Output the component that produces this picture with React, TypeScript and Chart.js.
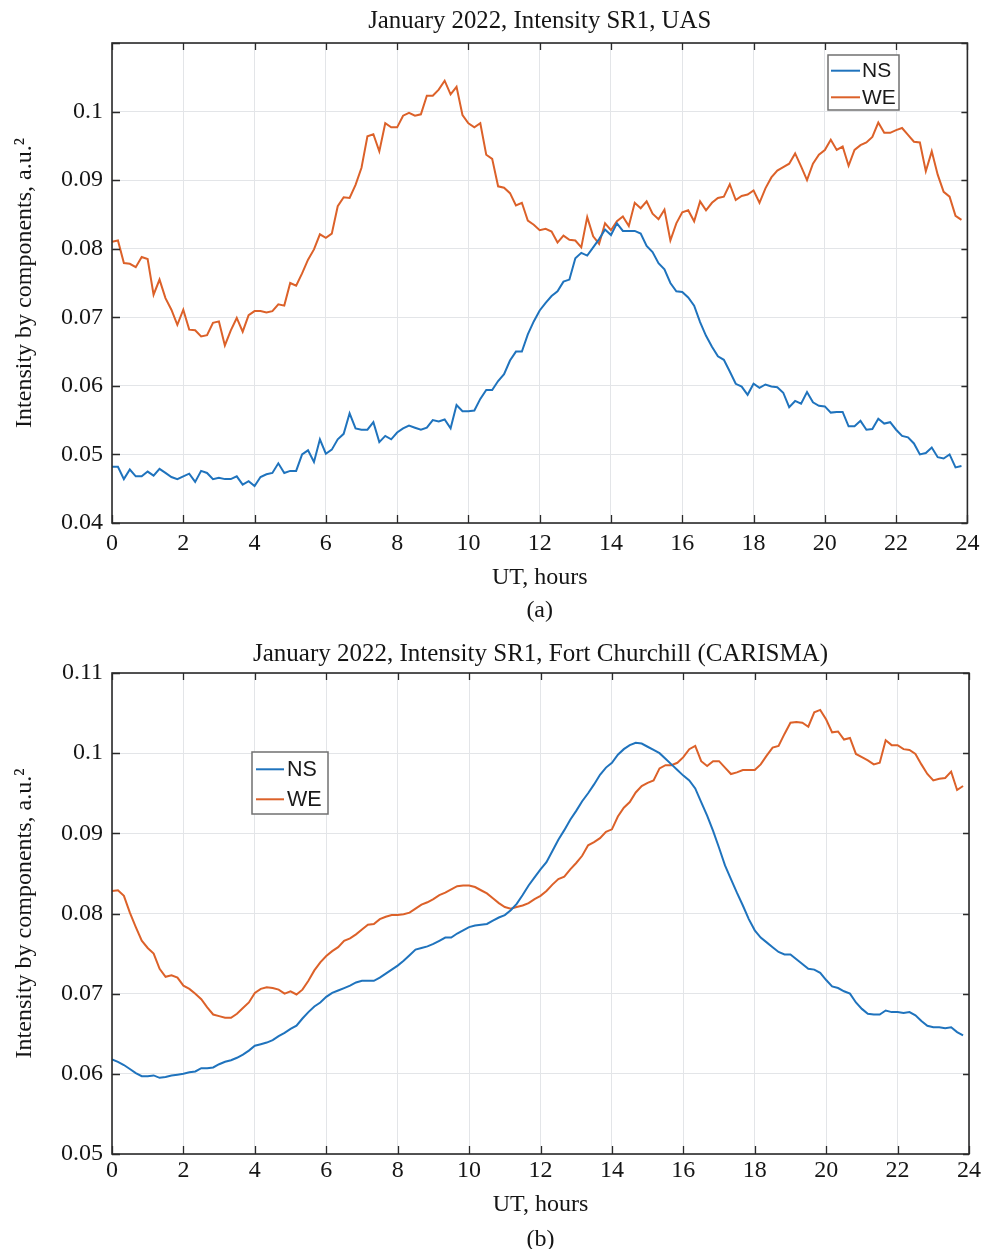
import { useEffect, useRef } from 'react';
import { Chart, registerables } from 'chart.js';

Chart.register(...registerables);

// Sampling interval of the records: 10 minutes
const HOURS_PER_SAMPLE = 1 / 6;
const SERIES_LABELS = ['NS', 'WE'];
const SERIES_COLORS = ['#1f73bd', '#dc6129'];

// (a) UAS
const nsA = [
  0.0482, 0.0482, 0.0464, 0.0478, 0.0468, 0.0468, 0.0475, 0.0469, 0.0479, 0.0473,
  0.0467, 0.0464, 0.0468, 0.0472, 0.0460, 0.0476, 0.0473, 0.0464, 0.0466, 0.0464,
  0.0464, 0.0468, 0.0456, 0.0461, 0.0454, 0.0467, 0.0471, 0.0473, 0.0487, 0.0473,
  0.0476, 0.0476, 0.0500, 0.0506, 0.0489, 0.0522, 0.0501, 0.0507, 0.0522, 0.0530,
  0.0560, 0.0538, 0.0536, 0.0536, 0.0547, 0.0518, 0.0527, 0.0522, 0.0532, 0.0538,
  0.0542, 0.0539, 0.0536, 0.0539, 0.0550, 0.0548, 0.0551, 0.0538, 0.0572, 0.0563,
  0.0563, 0.0564, 0.0581, 0.0594, 0.0594, 0.0607, 0.0617, 0.0637, 0.0650, 0.0650,
  0.0675, 0.0694, 0.0710, 0.0721, 0.0731, 0.0738, 0.0752, 0.0755, 0.0786, 0.0794,
  0.0790, 0.0802, 0.0814, 0.0828, 0.0820, 0.0837, 0.0826, 0.0826, 0.0826, 0.0822,
  0.0804, 0.0795, 0.0779, 0.0770, 0.0750, 0.0738, 0.0737, 0.0729, 0.0717, 0.0693,
  0.0673, 0.0657, 0.0643, 0.0638, 0.0621, 0.0603, 0.0599, 0.0587, 0.0603, 0.0597,
  0.0602, 0.0599, 0.0598, 0.0590, 0.0569, 0.0578, 0.0574, 0.0591, 0.0576, 0.0571,
  0.0570, 0.0561, 0.0562, 0.0562, 0.0541, 0.0541, 0.0549, 0.0536, 0.0537, 0.0552,
  0.0545, 0.0547, 0.0536, 0.0527, 0.0525, 0.0516, 0.0500, 0.0502, 0.0510, 0.0496,
  0.0494, 0.0500, 0.0481, 0.0483,
];
const weA = [
  0.0810, 0.0812, 0.0779, 0.0778, 0.0773, 0.0788, 0.0785, 0.0733, 0.0755, 0.0728,
  0.0711, 0.0689, 0.0711, 0.0682, 0.0681, 0.0672, 0.0674, 0.0692, 0.0694, 0.0659,
  0.0681, 0.0699, 0.0679, 0.0703, 0.0709, 0.0709, 0.0707, 0.0709, 0.0719, 0.0717,
  0.0750, 0.0746, 0.0764, 0.0784, 0.0799, 0.0821, 0.0816, 0.0822, 0.0862, 0.0875,
  0.0874, 0.0893, 0.0918, 0.0964, 0.0967, 0.0942, 0.0983, 0.0977, 0.0977, 0.0994,
  0.0998, 0.0994, 0.0996, 0.1023, 0.1023, 0.1032, 0.1045, 0.1025, 0.1036, 0.0995,
  0.0983, 0.0977, 0.0983, 0.0937, 0.0931, 0.0891, 0.0889, 0.0881, 0.0863, 0.0867,
  0.0841, 0.0835, 0.0827, 0.0829, 0.0825, 0.0809, 0.0819, 0.0813, 0.0812, 0.0802,
  0.0846, 0.0818, 0.0807, 0.0837, 0.0827, 0.0840, 0.0847, 0.0833, 0.0867, 0.0859,
  0.0869, 0.0851, 0.0843, 0.0857, 0.0812, 0.0837, 0.0853, 0.0856, 0.0840, 0.0869,
  0.0856, 0.0867, 0.0874, 0.0876, 0.0894, 0.0871, 0.0877, 0.0879, 0.0885, 0.0867,
  0.0888, 0.0904, 0.0914, 0.0919, 0.0924, 0.0939, 0.0920, 0.0900, 0.0924, 0.0937,
  0.0944, 0.0959, 0.0944, 0.0949, 0.0921, 0.0944, 0.0951, 0.0955, 0.0963, 0.0984,
  0.0969, 0.0969, 0.0973, 0.0976, 0.0966, 0.0956, 0.0955, 0.0913, 0.0942, 0.0908,
  0.0883, 0.0876, 0.0848, 0.0842,
];

// (b) Fort Churchill (CARISMA)
const nsB = [
  0.0618, 0.0615, 0.0611, 0.0606, 0.0601, 0.0597, 0.0597, 0.0598, 0.0595, 0.0596,
  0.0598, 0.0599, 0.0600, 0.0602, 0.0603, 0.0607, 0.0607, 0.0608, 0.0612, 0.0615,
  0.0617, 0.0620, 0.0624, 0.0629, 0.0635, 0.0637, 0.0639, 0.0642, 0.0647, 0.0651,
  0.0656, 0.0660, 0.0669, 0.0677, 0.0684, 0.0689, 0.0696, 0.0701, 0.0704, 0.0707,
  0.0710, 0.0714, 0.0716, 0.0716, 0.0716, 0.0720, 0.0725, 0.0730, 0.0735, 0.0741,
  0.0748, 0.0755, 0.0757, 0.0759, 0.0762, 0.0766, 0.0770, 0.0770, 0.0775, 0.0779,
  0.0783, 0.0785, 0.0786, 0.0787, 0.0791, 0.0795, 0.0798, 0.0804, 0.0812, 0.0823,
  0.0835, 0.0845, 0.0855, 0.0864, 0.0878, 0.0892, 0.0904, 0.0917, 0.0928, 0.0940,
  0.0950, 0.0961, 0.0973, 0.0982, 0.0988, 0.0998, 0.1005, 0.1010, 0.1013, 0.1012,
  0.1008, 0.1004, 0.1000, 0.0993, 0.0986, 0.0979, 0.0972, 0.0966, 0.0956, 0.0939,
  0.0922, 0.0903, 0.0882, 0.0860, 0.0843, 0.0826, 0.0810, 0.0793, 0.0779, 0.0770,
  0.0764, 0.0758, 0.0752, 0.0749, 0.0749, 0.0743, 0.0737, 0.0731, 0.0730, 0.0726,
  0.0717, 0.0709, 0.0707, 0.0703, 0.0700, 0.0689, 0.0681, 0.0675, 0.0674, 0.0674,
  0.0679, 0.0677, 0.0677, 0.0676, 0.0677, 0.0673, 0.0666, 0.0660, 0.0658, 0.0658,
  0.0657, 0.0658, 0.0652, 0.0648,
];
const weB = [
  0.0828, 0.0829, 0.0822, 0.0801, 0.0783, 0.0766, 0.0757, 0.0750, 0.0731, 0.0721,
  0.0723, 0.0720, 0.0710, 0.0706, 0.0700, 0.0693, 0.0683, 0.0674, 0.0672, 0.0670,
  0.0670, 0.0675, 0.0682, 0.0689, 0.0701, 0.0706, 0.0708, 0.0707, 0.0705, 0.0700,
  0.0703, 0.0699, 0.0705, 0.0716, 0.0729, 0.0739, 0.0747, 0.0753, 0.0758, 0.0766,
  0.0769, 0.0774, 0.0780, 0.0786, 0.0787, 0.0793, 0.0796, 0.0798, 0.0798, 0.0799,
  0.0801, 0.0806, 0.0811, 0.0814, 0.0818, 0.0823, 0.0826, 0.0830, 0.0834, 0.0835,
  0.0835, 0.0833, 0.0829, 0.0825, 0.0819, 0.0813, 0.0808, 0.0806, 0.0808, 0.0810,
  0.0813, 0.0818, 0.0822, 0.0828, 0.0836, 0.0843, 0.0846, 0.0855, 0.0863, 0.0872,
  0.0885, 0.0889, 0.0894, 0.0902, 0.0905, 0.0921, 0.0932, 0.0939, 0.0951, 0.0959,
  0.0963, 0.0966, 0.0981, 0.0985, 0.0985, 0.0988, 0.0995, 0.1005, 0.1009, 0.0990,
  0.0984, 0.0990, 0.0990, 0.0982, 0.0974, 0.0976, 0.0979, 0.0979, 0.0979, 0.0986,
  0.0997, 0.1007, 0.1009, 0.1024, 0.1038, 0.1039, 0.1038, 0.1033, 0.1051, 0.1054,
  0.1042, 0.1026, 0.1027, 0.1017, 0.1019, 0.0999, 0.0995, 0.0991, 0.0986, 0.0988,
  0.1016, 0.1010, 0.1010, 0.1005, 0.1004, 0.0999, 0.0986, 0.0974, 0.0966, 0.0968,
  0.0969, 0.0977, 0.0954, 0.0959,
];

const X_MIN = 0;
const X_MAX = 24;
const X_STEP = 2;
const Y_STEP = 0.01;
const Y_TITLE = 'Intensity by components, a.u.\u00B2';
const X_TITLE = 'UT, hours';

const SERIF = "'Liberation Serif', 'Times New Roman', serif";
const SANS = "'Liberation Sans', Arial, sans-serif";
const TEXT = '#151515';

const fmt = (v: number) => String(Number(Number(v).toFixed(4)));

const framePlugin = {
  id: 'matlabFrame',
  afterDraw(chart: any, _args: any, opts: any) {
    const { ctx, chartArea: a } = chart;
    const xs = chart.scales.x;
    const ys = chart.scales.y;
    ctx.save();
    ctx.strokeStyle = '#2a2a2a';
    ctx.lineWidth = 1.3;
    ctx.beginPath();
    xs.ticks.forEach((t: any) => {
      const px = Math.round(xs.getPixelForValue(t.value)) + 0.5;
      ctx.moveTo(px, a.bottom);
      ctx.lineTo(px, a.bottom - 8);
      ctx.moveTo(px, a.top);
      ctx.lineTo(px, a.top + 7);
    });
    ys.ticks.forEach((t: any) => {
      const py = Math.round(ys.getPixelForValue(t.value)) + 0.5;
      ctx.moveTo(a.left, py);
      ctx.lineTo(a.left + 8, py);
      ctx.moveTo(a.right, py);
      ctx.lineTo(a.right - 6, py);
    });
    ctx.stroke();
    ctx.lineWidth = 1.6;
    ctx.strokeRect(a.left, a.top, a.right - a.left, a.bottom - a.top);

    // legend box
    const lg = opts.legend;
    if (lg) {
      const bx = a.left + lg.dx;
      const by = a.top + lg.dy;
      ctx.fillStyle = '#ffffff';
      ctx.fillRect(bx, by, lg.w, lg.h);
      ctx.strokeStyle = '#707070';
      ctx.lineWidth = 1.5;
      ctx.strokeRect(bx, by, lg.w, lg.h);
      chart.data.datasets.forEach((ds: any, i: number) => {
        const cy = by + lg.rows[i];
        ctx.strokeStyle = ds.borderColor;
        ctx.lineWidth = 2;
        ctx.beginPath();
        ctx.moveTo(bx + lg.lineX0, cy);
        ctx.lineTo(bx + lg.lineX1, cy);
        ctx.stroke();
        ctx.fillStyle = '#1a1a1a';
        ctx.font = `${lg.fontSize}px ${SANS}`;
        ctx.textBaseline = 'middle';
        ctx.textAlign = 'left';
        ctx.fillText(ds.label, bx + lg.textX, cy + 1);
      });
    }
    ctx.restore();
  },
};

type PanelProps = {
  width: number;
  height: number;
  title: string;
  titleSize: number;
  tag: string;
  ns: number[];
  we: number[];
  yMin: number;
  yMax: number;
  hideTopTick: boolean;
  titlePad: { top: number; bottom: number };
  xTickPad: number;
  xTitlePad: { top: number; bottom: number };
  tagPad: { top: number; bottom: number };
  tagLineHeight: number;
  legend: any;
};

function Panel(p: PanelProps) {
  const ref = useRef<HTMLCanvasElement | null>(null);
  useEffect(() => {
    if (!ref.current) return;
    const toPts = (arr: number[]) => arr.map((v, i) => ({ x: i * HOURS_PER_SAMPLE, y: v }));
    const chart = new Chart(ref.current, {
      type: 'line',
      data: {
        datasets: [
          {
            label: SERIES_LABELS[0],
            data: toPts(p.ns),
            borderColor: SERIES_COLORS[0],
            backgroundColor: SERIES_COLORS[0],
            borderWidth: 2,
            pointRadius: 0,
            tension: 0,
          },
          {
            label: SERIES_LABELS[1],
            data: toPts(p.we),
            borderColor: SERIES_COLORS[1],
            backgroundColor: SERIES_COLORS[1],
            borderWidth: 2,
            pointRadius: 0,
            tension: 0,
          },
        ],
      },
      options: {
        responsive: false,
        animation: false,
        events: [],
        layout: { padding: { left: 0, right: 17, top: 0, bottom: 0 } },
        plugins: {
          legend: { display: false },
          tooltip: { enabled: false },
          title: {
            display: true,
            fullSize: false,
            text: p.title,
            color: TEXT,
            font: { family: SERIF, size: p.titleSize, weight: 'normal', lineHeight: 1.2 },
            padding: p.titlePad,
          },
          subtitle: {
            display: true,
            fullSize: false,
            position: 'bottom',
            text: p.tag,
            color: TEXT,
            font: { family: SERIF, size: 24, weight: 'normal', lineHeight: p.tagLineHeight },
            padding: p.tagPad,
          },
          matlabFrame: { legend: p.legend },
        } as any,
        scales: {
          x: {
            type: 'linear',
            min: X_MIN,
            max: X_MAX,
            grid: { color: '#e3e5e8', lineWidth: 1, drawTicks: false },
            border: { display: false },
            ticks: {
              stepSize: X_STEP,
              color: TEXT,
              padding: p.xTickPad,
              maxRotation: 0,
              font: { family: SERIF, size: 24, lineHeight: 1.2 },
              callback: (v: any) => fmt(v),
            },
            title: {
              display: true,
              text: X_TITLE,
              color: TEXT,
              font: { family: SERIF, size: 24, lineHeight: 1.0 },
              padding: p.xTitlePad,
            },
          },
          y: {
            type: 'linear',
            min: p.yMin,
            max: p.yMax,
            grid: { color: '#e3e5e8', lineWidth: 1, drawTicks: false },
            border: { display: false },
            afterFit: (s: any) => {
              s.width = 112;
            },
            ticks: {
              stepSize: Y_STEP,
              color: TEXT,
              padding: 9,
              font: { family: SERIF, size: 24, lineHeight: 1.2 },
              callback: (v: any) => (p.hideTopTick && Number(v) > p.yMax - Y_STEP / 2 ? '' : fmt(v)),
            },
            title: {
              display: true,
              text: Y_TITLE,
              color: TEXT,
              font: { family: SERIF, size: 24, lineHeight: 1.2 },
              padding: { top: 10, bottom: 0 },
            },
          },
        },
      } as any,
      plugins: [framePlugin],
    });
    return () => chart.destroy();
  }, []);
  return <canvas ref={ref} width={p.width} height={p.height} style={{ display: 'block' }} />;
}

export default function App() {
  return (
    <div
      style={{
        position: 'absolute',
        left: 0,
        top: 0,
        width: 986,
        height: 1249,
        overflow: 'hidden',
        background: '#ffffff',
      }}
    >
      <Panel
        width={986}
        height={624}
        title="January 2022, Intensity SR1, UAS"
        titleSize={24.8}
        tag="(a)"
        ns={nsA}
        we={weA}
        yMin={0.04}
        yMax={0.11}
        hideTopTick={true}
        titlePad={{ top: 6.6, bottom: 6.64 }}
        xTickPad={6.6}
        xTitlePad={{ top: 1, bottom: 0 }}
        tagPad={{ top: 9, bottom: 1 }}
        tagLineHeight={1.0}
        legend={{ dx: 716, dy: 12, w: 71, h: 55, rows: [15.7, 42.3], lineX0: 3, lineX1: 32, textX: 34, fontSize: 21 }}
      />
      <Panel
        width={986}
        height={625}
        title="January 2022, Intensity SR1, Fort Churchill (CARISMA)"
        titleSize={25}
        tag="(b)"
        ns={nsB}
        we={weB}
        yMin={0.05}
        yMax={0.11}
        hideTopTick={false}
        titlePad={{ top: 15.5, bottom: 3.5 }}
        xTickPad={2.6}
        xTitlePad={{ top: 5, bottom: 0 }}
        tagPad={{ top: 12.8, bottom: 0 }}
        tagLineHeight={0.8}
        legend={{ dx: 140, dy: 79, w: 76, h: 62, rows: [17.3, 47.3], lineX0: 4, lineX1: 32, textX: 35, fontSize: 21.5 }}
      />
    </div>
  );
}
